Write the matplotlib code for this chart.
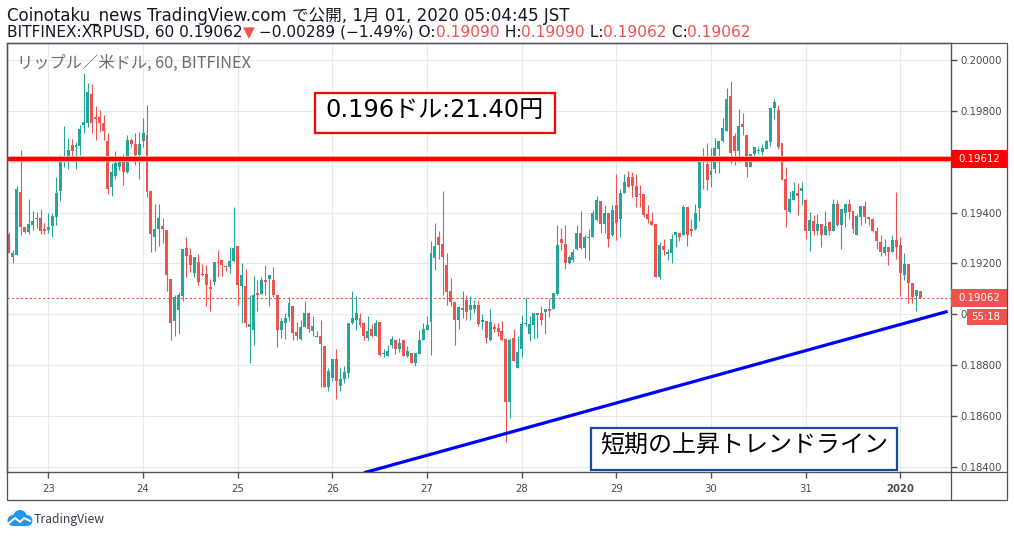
import numpy as np
import pandas as pd
import matplotlib
matplotlib.use("Agg")
import matplotlib.pyplot as plt
import matplotlib.dates as mdates
import matplotlib.transforms as mtrans
from matplotlib.patches import Rectangle, Circle
from matplotlib.lines import Line2D

# ---------------- data (hourly XRP/USD candles, Bitfinex) ----------------
start_time = "2019-12-22 14:00"

opens = [
    0.19314, 0.19223, 0.19231, 0.19480, 0.19342, 0.19322, 0.19350, 0.19374, 0.19378, 0.19334,
    0.19330, 0.19346, 0.19381, 0.19484, 0.19602, 0.19606, 0.19665, 0.19657, 0.19661, 0.19744,
    0.19752, 0.19866, 0.19775, 0.19775, 0.19752, 0.19681, 0.19500, 0.19543, 0.19579, 0.19602,
    0.19559, 0.19685, 0.19669, 0.19626, 0.19681, 0.19705, 0.19484, 0.19303, 0.19334, 0.19346,
    0.19330, 0.19137, 0.18972, 0.19015, 0.19070, 0.19259, 0.19231, 0.19161, 0.19204, 0.19157,
    0.19157, 0.19105, 0.19125, 0.19204, 0.19212, 0.19188, 0.19184, 0.19208, 0.19267, 0.19109,
    0.19109, 0.18948, 0.18936, 0.19082, 0.19078, 0.19133, 0.19137, 0.19133, 0.19074, 0.18936,
    0.18964, 0.18987, 0.19034, 0.18928, 0.18904, 0.18948, 0.19003, 0.18932, 0.18912, 0.18916,
    0.18873, 0.18712, 0.18747, 0.18822, 0.18716, 0.18743, 0.18767, 0.18964, 0.18976, 0.18983,
    0.18964, 0.18908, 0.18940, 0.18916, 0.18968, 0.18845, 0.18837, 0.18877, 0.18900, 0.18861,
    0.18897, 0.18837, 0.18849, 0.18806, 0.18845, 0.18900, 0.18936, 0.18968, 0.19220, 0.19303,
    0.19275, 0.19192, 0.19090, 0.19046, 0.18979, 0.19015, 0.19054, 0.19015, 0.19019, 0.19038,
    0.18968, 0.18972, 0.18900, 0.18948, 0.18944, 0.18932, 0.18904, 0.18656, 0.18908, 0.18790,
    0.18861, 0.18960, 0.18920, 0.18956, 0.18995, 0.19003, 0.19007, 0.19019, 0.19019, 0.19078,
    0.19295, 0.19275, 0.19200, 0.19212, 0.19255, 0.19318, 0.19259, 0.19299, 0.19303, 0.19370,
    0.19444, 0.19354, 0.19397, 0.19310, 0.19429, 0.19374, 0.19476, 0.19539, 0.19539, 0.19504,
    0.19472, 0.19472, 0.19393, 0.19366, 0.19354, 0.19145, 0.19267, 0.19235, 0.19239, 0.19310,
    0.19318, 0.19310, 0.19421, 0.19334, 0.19334, 0.19417, 0.19606, 0.19590, 0.19547, 0.19571,
    0.19649, 0.19681, 0.19720, 0.19858, 0.19701, 0.19642, 0.19748, 0.19705, 0.19579, 0.19630,
    0.19642, 0.19638, 0.19649, 0.19677, 0.19811, 0.19803, 0.19673, 0.19531, 0.19401, 0.19448,
    0.19476, 0.19484, 0.19448, 0.19326, 0.19366, 0.19326, 0.19354, 0.19310, 0.19362, 0.19326,
    0.19433, 0.19350, 0.19397, 0.19433, 0.19405, 0.19310, 0.19381, 0.19425, 0.19381, 0.19374,
    0.19326, 0.19283, 0.19239, 0.19263, 0.19243, 0.19291, 0.19271, 0.19153, 0.19196, 0.19121,
    0.19070, 0.19090,
]
highs = [
    0.19322, 0.19251, 0.19504, 0.19646, 0.19342, 0.19452, 0.19405, 0.19401, 0.19413, 0.19358,
    0.19397, 0.19397, 0.19539, 0.19626, 0.19740, 0.19693, 0.19689, 0.19677, 0.19744, 0.19949,
    0.19909, 0.19905, 0.19819, 0.19803, 0.19783, 0.19712, 0.19594, 0.19642, 0.19618, 0.19630,
    0.19705, 0.19693, 0.19712, 0.19716, 0.19771, 0.19823, 0.19484, 0.19433, 0.19433, 0.19378,
    0.19330, 0.19137, 0.19074, 0.19086, 0.19255, 0.19303, 0.19259, 0.19223, 0.19235, 0.19196,
    0.19192, 0.19137, 0.19204, 0.19251, 0.19212, 0.19192, 0.19263, 0.19421, 0.19267, 0.19200,
    0.19177, 0.19074, 0.19149, 0.19133, 0.19145, 0.19192, 0.19153, 0.19184, 0.19074, 0.18983,
    0.19003, 0.19066, 0.19034, 0.18968, 0.18979, 0.19050, 0.19003, 0.18991, 0.18932, 0.18979,
    0.18873, 0.18790, 0.18822, 0.18861, 0.18794, 0.18798, 0.18964, 0.19090, 0.19070, 0.19003,
    0.18968, 0.18991, 0.18960, 0.18976, 0.18968, 0.18861, 0.18877, 0.18916, 0.18900, 0.18908,
    0.18897, 0.18873, 0.18849, 0.18849, 0.18936, 0.18964, 0.18991, 0.19287, 0.19358, 0.19326,
    0.19484, 0.19239, 0.19141, 0.19046, 0.19030, 0.19090, 0.19074, 0.19070, 0.19054, 0.19050,
    0.18999, 0.18972, 0.19019, 0.18964, 0.18964, 0.18972, 0.18904, 0.18908, 0.18940, 0.18916,
    0.18995, 0.19066, 0.18991, 0.19003, 0.19003, 0.19034, 0.19019, 0.19058, 0.19082, 0.19350,
    0.19338, 0.19350, 0.19231, 0.19255, 0.19350, 0.19405, 0.19310, 0.19334, 0.19409, 0.19464,
    0.19444, 0.19429, 0.19397, 0.19429, 0.19551, 0.19492, 0.19551, 0.19563, 0.19559, 0.19551,
    0.19508, 0.19472, 0.19429, 0.19401, 0.19354, 0.19283, 0.19295, 0.19255, 0.19314, 0.19322,
    0.19318, 0.19429, 0.19421, 0.19374, 0.19433, 0.19606, 0.19653, 0.19673, 0.19653, 0.19693,
    0.19681, 0.19771, 0.19890, 0.19917, 0.19712, 0.19807, 0.19791, 0.19705, 0.19630, 0.19657,
    0.19657, 0.19669, 0.19685, 0.19811, 0.19846, 0.19823, 0.19673, 0.19579, 0.19484, 0.19519,
    0.19515, 0.19519, 0.19452, 0.19401, 0.19389, 0.19393, 0.19354, 0.19405, 0.19366, 0.19452,
    0.19448, 0.19413, 0.19433, 0.19452, 0.19405, 0.19393, 0.19425, 0.19444, 0.19381, 0.19378,
    0.19342, 0.19310, 0.19295, 0.19263, 0.19310, 0.19480, 0.19303, 0.19239, 0.19196, 0.19121,
    0.19094, 0.19090,
]
lows = [
    0.19239, 0.19200, 0.19231, 0.19310, 0.19318, 0.19314, 0.19330, 0.19338, 0.19314, 0.19314,
    0.19318, 0.19303, 0.19350, 0.19444, 0.19579, 0.19571, 0.19602, 0.19571, 0.19626, 0.19712,
    0.19736, 0.19712, 0.19685, 0.19716, 0.19685, 0.19472, 0.19464, 0.19531, 0.19567, 0.19508,
    0.19555, 0.19657, 0.19587, 0.19531, 0.19657, 0.19460, 0.19243, 0.19247, 0.19267, 0.19279,
    0.19090, 0.18897, 0.18916, 0.18920, 0.19050, 0.19145, 0.19165, 0.19145, 0.19113, 0.19149,
    0.19034, 0.19011, 0.19113, 0.19145, 0.19149, 0.19169, 0.19161, 0.19204, 0.19038, 0.18964,
    0.18948, 0.18806, 0.18877, 0.19011, 0.19078, 0.19074, 0.19034, 0.19066, 0.18869, 0.18908,
    0.18904, 0.18972, 0.18900, 0.18897, 0.18900, 0.18948, 0.18928, 0.18916, 0.18912, 0.18712,
    0.18712, 0.18696, 0.18739, 0.18668, 0.18696, 0.18731, 0.18747, 0.18960, 0.18936, 0.18948,
    0.18900, 0.18900, 0.18912, 0.18916, 0.18837, 0.18830, 0.18837, 0.18865, 0.18845, 0.18853,
    0.18834, 0.18830, 0.18806, 0.18798, 0.18845, 0.18897, 0.18936, 0.18841, 0.19173, 0.19216,
    0.19074, 0.19038, 0.19034, 0.18877, 0.18940, 0.18983, 0.18979, 0.18979, 0.19003, 0.18952,
    0.18940, 0.18885, 0.18893, 0.18928, 0.18916, 0.18900, 0.18499, 0.18593, 0.18814, 0.18790,
    0.18830, 0.18952, 0.18893, 0.18904, 0.18908, 0.18956, 0.18920, 0.18987, 0.19019, 0.19074,
    0.19251, 0.19177, 0.19196, 0.19204, 0.19251, 0.19255, 0.19220, 0.19212, 0.19303, 0.19366,
    0.19318, 0.19318, 0.19263, 0.19306, 0.19291, 0.19303, 0.19476, 0.19500, 0.19460, 0.19421,
    0.19421, 0.19381, 0.19358, 0.19350, 0.19145, 0.19137, 0.19231, 0.19212, 0.19200, 0.19263,
    0.19287, 0.19310, 0.19267, 0.19306, 0.19330, 0.19366, 0.19492, 0.19488, 0.19500, 0.19555,
    0.19555, 0.19677, 0.19720, 0.19594, 0.19587, 0.19598, 0.19705, 0.19539, 0.19579, 0.19602,
    0.19634, 0.19626, 0.19649, 0.19661, 0.19767, 0.19649, 0.19527, 0.19342, 0.19397, 0.19448,
    0.19389, 0.19429, 0.19295, 0.19247, 0.19310, 0.19310, 0.19263, 0.19310, 0.19310, 0.19326,
    0.19346, 0.19255, 0.19342, 0.19374, 0.19318, 0.19310, 0.19350, 0.19358, 0.19350, 0.19322,
    0.19255, 0.19228, 0.19231, 0.19192, 0.19243, 0.19216, 0.19070, 0.19133, 0.19042, 0.19042,
    0.19011, 0.19062,
]
closes = [
    0.19239, 0.19239, 0.19492, 0.19342, 0.19322, 0.19354, 0.19366, 0.19378, 0.19326, 0.19326,
    0.19342, 0.19385, 0.19476, 0.19614, 0.19618, 0.19646, 0.19642, 0.19665, 0.19728, 0.19756,
    0.19874, 0.19752, 0.19767, 0.19752, 0.19720, 0.19492, 0.19559, 0.19594, 0.19602, 0.19559,
    0.19685, 0.19669, 0.19626, 0.19669, 0.19712, 0.19480, 0.19314, 0.19334, 0.19378, 0.19334,
    0.19153, 0.18964, 0.19066, 0.19074, 0.19255, 0.19228, 0.19192, 0.19223, 0.19125, 0.19153,
    0.19113, 0.19098, 0.19204, 0.19200, 0.19192, 0.19184, 0.19208, 0.19259, 0.19113, 0.19153,
    0.18964, 0.18960, 0.19074, 0.19074, 0.19133, 0.19125, 0.19153, 0.19074, 0.18936, 0.18972,
    0.18983, 0.19042, 0.18924, 0.18916, 0.18948, 0.19003, 0.18940, 0.18952, 0.18916, 0.18881,
    0.18712, 0.18775, 0.18822, 0.18739, 0.18743, 0.18771, 0.18964, 0.18983, 0.19003, 0.18956,
    0.18916, 0.18932, 0.18916, 0.18964, 0.18841, 0.18849, 0.18857, 0.18904, 0.18861, 0.18885,
    0.18837, 0.18857, 0.18806, 0.18849, 0.18900, 0.18940, 0.18956, 0.19239, 0.19267, 0.19271,
    0.19223, 0.19086, 0.19046, 0.18976, 0.19030, 0.19026, 0.19007, 0.19038, 0.19038, 0.18960,
    0.18979, 0.18908, 0.18968, 0.18940, 0.18928, 0.18900, 0.18656, 0.18897, 0.18814, 0.18853,
    0.18960, 0.18964, 0.18960, 0.19003, 0.19003, 0.18979, 0.19019, 0.19011, 0.19082, 0.19271,
    0.19279, 0.19200, 0.19223, 0.19243, 0.19318, 0.19259, 0.19303, 0.19303, 0.19397, 0.19448,
    0.19354, 0.19397, 0.19295, 0.19409, 0.19358, 0.19476, 0.19519, 0.19500, 0.19504, 0.19460,
    0.19468, 0.19389, 0.19374, 0.19350, 0.19145, 0.19271, 0.19251, 0.19243, 0.19295, 0.19322,
    0.19303, 0.19421, 0.19310, 0.19326, 0.19397, 0.19598, 0.19602, 0.19527, 0.19563, 0.19653,
    0.19681, 0.19732, 0.19846, 0.19634, 0.19642, 0.19740, 0.19736, 0.19579, 0.19630, 0.19657,
    0.19646, 0.19653, 0.19681, 0.19811, 0.19835, 0.19657, 0.19527, 0.19409, 0.19452, 0.19484,
    0.19464, 0.19496, 0.19326, 0.19370, 0.19326, 0.19354, 0.19310, 0.19346, 0.19326, 0.19433,
    0.19350, 0.19413, 0.19433, 0.19401, 0.19334, 0.19385, 0.19425, 0.19381, 0.19374, 0.19326,
    0.19287, 0.19243, 0.19263, 0.19243, 0.19291, 0.19263, 0.19161, 0.19196, 0.19121, 0.19066,
    0.19094, 0.19062,
]

resistance_level = 0.19612
last_price = 0.19062
trend_times = ["2019-12-26 08:00", "2020-01-01 12:00"]
trend_prices = [0.18376, 0.19011]

day_ticks = pd.date_range("2019-12-23", "2020-01-01", freq="D")
day_labels = ["23", "24", "25", "26", "27", "28", "29", "30", "31", "2020"]
price_ticks = [0.184, 0.186, 0.188, 0.190, 0.192, 0.194, 0.196, 0.198, 0.200]
# tick labels as visible on the price scale (0.19600 hidden by the line's box,
# 0.19000 mostly hidden by the countdown box)
price_tick_labels = ["0.18400", "0.18600", "0.18800", "0.", "0.19200", "0.19400", "",
                     "0.19800", "0.20000"]
x_range = ["2019-12-22 13:30", "2020-01-01 12:51"]
y_range = [0.18379, 0.200669]

header_line1 = "Coinotaku_news TradingView.com で公開, 1月 01, 2020 05:04:45 JST"
header_line2 = [("BITFINEX:XRPUSD, 60 0.19062", "k"), ("▼", "r"), (" −0.00289 (−1.49%) O:", "k"),
                ("0.19090", "r"), (" H:", "k"), ("0.19090", "r"), (" L:", "k"),
                ("0.19062", "r"), (" C:", "k"), ("0.19062", "r")]
symbol_title = "リップル／米ドル, 60, BITFINEX"
note_price = "0.196ドル:21.40円"
note_trend = "短期の上昇トレンドライン"
countdown = "55:18"

# ---------------- styling ----------------
GREEN = "#26a69a"
RED = "#ef5350"
TXT = "#131722"
AXC = "#50535e"
GRID = "#e3ebf1"
W, H = 1014, 537
LATIN_FIRST = ["DejaVu Sans", "Noto Sans CJK JP"]

plt.rcParams["font.family"] = ["Noto Sans CJK JP", "DejaVu Sans"]

fig = plt.figure(figsize=(W / 100, H / 100), dpi=100)
fig.patch.set_facecolor("white")


def fx(x):
    return x / W


def fy(y):
    return 1 - y / H


ax = fig.add_axes([fx(7), fy(472), (951 - 7) / W, (472 - 43) / H])
ax.set_facecolor("white")

times = pd.date_range(start_time, periods=len(opens), freq="h")
xs = mdates.date2num(times.to_pydatetime())
o = np.array(opens)
h = np.array(highs)
l = np.array(lows)
c = np.array(closes)
cols = np.where(c >= o, GREEN, RED)
bottoms = np.minimum(o, c)
heights = np.maximum(np.abs(c - o), 0.00003)

ax.vlines(xs, l, h, colors=cols, lw=0.8, zorder=2)
ax.bar(xs, heights, bottom=bottoms, width=0.75 / 24, color=cols, lw=0, zorder=2.1)

# lines
ax.axhline(last_price, color=RED, lw=0.8, ls=(0, (2, 2)), zorder=1.5)
ax.axhline(resistance_level, color="#ffb0b0", lw=4.2, zorder=3.9)
ax.axhline(resistance_level, color="#ff0000", lw=3.0, zorder=4)
tx = mdates.date2num(pd.to_datetime(trend_times).to_pydatetime())
ax.plot(tx, trend_prices, color="#0000ff", lw=2.3, solid_capstyle="butt", zorder=4)

# axes limits / ticks
xr = mdates.date2num(pd.to_datetime(x_range).to_pydatetime())
ax.set_xlim(xr[0], xr[1])
ax.set_ylim(y_range[0], y_range[1])
ax.set_xticks(mdates.date2num(day_ticks.to_pydatetime()))
ax.set_xticklabels(day_labels, family="DejaVu Sans", fontsize=7.3, color="#4a4a4a")
ax.get_xticklabels()[-1].set_fontweight("bold")
ax.yaxis.tick_right()
ax.set_yticks(price_ticks)
ax.set_yticklabels(price_tick_labels, family="DejaVu Sans", fontsize=7.3, color="#4a4a4a")
ax.tick_params(axis="y", direction="out", length=4, width=1, color=AXC, pad=2.5)
ax.tick_params(axis="x", direction="out", length=4, width=1, color=AXC, pad=5)
ax.grid(True, color=GRID, lw=0.8)
ax.set_axisbelow(True)
for sp in ax.spines.values():
    sp.set_color(AXC)
    sp.set_linewidth(1)

# right-axis price boxes
ppp = (472 - 43) / (y_range[1] - y_range[0])  # pixels per price unit
bh = 18 / ppp
btr = mtrans.blended_transform_factory(fig.transFigure, ax.transData)
for lvl, colr in [(resistance_level, "#ff0000"), (last_price, RED)]:
    ax.add_patch(Rectangle((fx(950.5), lvl - bh / 2), 57 / W, bh, transform=btr,
                           fc=colr, ec="none", clip_on=False, zorder=6))
    ax.text(fx(958), lvl, f"{lvl:.5f}", transform=btr, color="white", family="DejaVu Sans",
            fontsize=7.3, va="center", ha="left", clip_on=False, zorder=7)
cd_y = last_price - 18.5 / ppp
ax.add_patch(Rectangle((fx(967), cd_y - 16.5 / ppp / 2), 40 / W, 16.5 / ppp, transform=btr,
                       fc=RED, ec="none", clip_on=False, zorder=6))
ax.text(fx(971), cd_y, countdown, transform=btr, color="white", family="DejaVu Sans",
        fontsize=7.3, va="center", ha="left", clip_on=False, zorder=7)

# outer frame
fig.add_artist(Rectangle((fx(6.5), fy(500)), (1007 - 6.5) / W, (500 - 43) / H,
                         transform=fig.transFigure, fill=False, ec=AXC, lw=0.9, zorder=10))
fig.add_artist(Line2D([fx(951), fx(951)], [fy(472), fy(500)], transform=fig.transFigure,
                      color=AXC, lw=0.9))
fig.add_artist(Line2D([fx(951), fx(1007)], [fy(472), fy(472)], transform=fig.transFigure,
                      color=AXC, lw=0.9))

renderer = fig.canvas.get_renderer()


def fit(t, target):
    bb = t.get_window_extent(renderer)
    t.set_fontsize(t.get_fontsize() * target / bb.width)
    return t


# header
t1 = fig.text(fx(7), fy(20.5), header_line1, color=TXT, fontsize=11, va="baseline",
              ha="left", family=LATIN_FIRST)
fit(t1, 561)

colmap = {"k": TXT, "r": RED}


def place_line(fs):
    arts = []
    x = 7.0
    for s, cc in header_line2:
        t = fig.text(fx(x), fy(36.7), s, color=colmap[cc], fontsize=fs, va="baseline",
                     ha="left", family=LATIN_FIRST)
        bb = t.get_window_extent(renderer)
        x += bb.width
        arts.append(t)
    return arts, x - 7


arts, wid = place_line(11)
for a in arts:
    a.remove()
arts, wid = place_line(11 * 743 / wid)

# symbol title
t3 = fig.text(fx(17), fy(68.3), symbol_title, color="#6a6d78", fontsize=11, va="baseline", ha="left")
fit(t3, 234)

# annotation boxes
fig.add_artist(Rectangle((fx(314.5), fy(133)), (555 - 314.5) / W, (133 - 92.5) / H,
                         transform=fig.transFigure, fc="white", ec="#ff0000", lw=1.6, zorder=8))
tb1 = fig.text(fx(325), fy(117), note_price, color="black", fontsize=18, va="baseline",
               ha="left", zorder=9, family=LATIN_FIRST)
fit(tb1, 218)
fig.add_artist(Rectangle((fx(591), fy(470)), (897 - 591) / W, (470 - 427.5) / H,
                         transform=fig.transFigure, fc="white", ec="#1a4c9c", lw=1.6, zorder=8))
tb2 = fig.text(fx(600), fy(452.5), note_trend, color="black", fontsize=18, va="baseline",
               ha="left", zorder=9)
fit(tb2, 288)

# TradingView logo
lax = fig.add_axes([fx(6), fy(527), 27 / W, 18 / H])
lax.set_xlim(0, 27)
lax.set_ylim(0, 18)
lax.axis("off")
for (cx, cy, r) in [(7, 6.5, 5.5), (14, 10, 7), (21, 6.5, 5.5)]:
    lax.add_patch(Circle((cx, cy), r, fc="#2196f3", ec="none"))
lax.add_patch(Rectangle((7, 1), 14, 6, fc="#2196f3", ec="none"))
lax.plot([3, 9, 14, 18, 24], [4, 9, 5, 9, 6], color="white", lw=1.4)
t4 = fig.text(fx(34), fy(523.5), "TradingView", color="#3b3f4a", fontsize=9.5, va="baseline", ha="left")
fit(t4, 71)

fig.savefig("out.png", dpi=100, facecolor="white")
